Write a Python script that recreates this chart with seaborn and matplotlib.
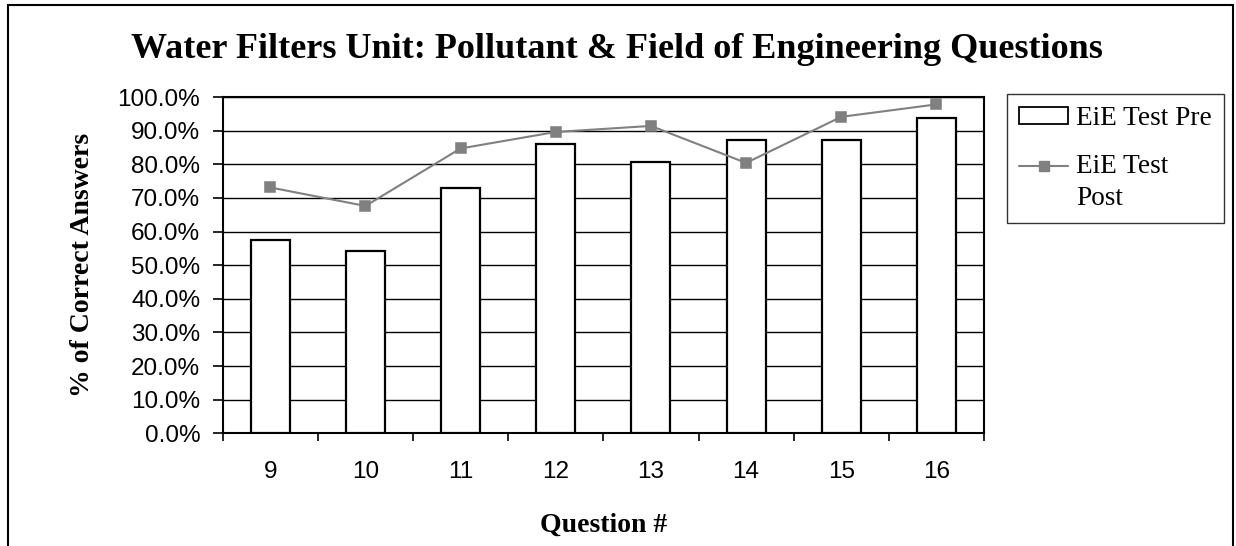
import matplotlib
matplotlib.use("Agg")
import matplotlib.pyplot as plt
import seaborn as sns
import pandas as pd
from matplotlib.ticker import PercentFormatter, MultipleLocator, FixedLocator
from matplotlib.patches import Patch
from matplotlib.lines import Line2D
from matplotlib.legend_handler import HandlerLine2D

questions = ["9", "10", "11", "12", "13", "14", "15", "16"]
pre_scores = [57.5, 54.2, 72.9, 86.0, 80.6, 87.2, 87.2, 93.7]
post_scores = [73.1, 67.6, 84.7, 89.6, 91.4, 80.4, 94.1, 97.8]
series_names = ["EiE Test Pre", "EiE Test\nPost"]

df = pd.DataFrame({"Question": questions, "Pre": pre_scores, "Post": post_scores})

sns.set_theme(style="white")
plt.rcParams["font.family"] = ["Liberation Serif", "DejaVu Serif"]

W, H = 1236, 546
fig = plt.figure(figsize=(W / 100, H / 100), dpi=100)
ax = fig.add_axes([222.7 / W, 1 - 433.3 / H, (984 - 222.7) / W, (433.3 - 97) / H])

sns.barplot(data=df, x="Question", y="Pre", color="white", edgecolor="black",
            linewidth=1.6, width=0.41, ax=ax, zorder=3, saturation=1)
sns.pointplot(data=df, x="Question", y="Post", color="#808080", markers="s",
              markersize=7.5, linewidth=1.5, errorbar=None, ax=ax)
for c in ax.collections:
    c.set_zorder(5)
for l in ax.lines:
    l.set_zorder(4)

ax.set_ylim(0, 100)
ax.set_xlim(-0.5, len(questions) - 0.5)
ax.yaxis.set_major_locator(MultipleLocator(10))
ax.yaxis.set_major_formatter(PercentFormatter(decimals=1))
ax.grid(axis="y", color="black", linewidth=1.0, zorder=0)
ax.set_axisbelow(True)
for s in ax.spines.values():
    s.set_color("black")
    s.set_linewidth(1.5)

ax.tick_params(axis="y", which="major", direction="out", length=7.2, width=1.2,
               color="black", labelsize=17.5, pad=9, left=True)
ax.tick_params(axis="x", which="major", length=0, labelsize=17.5, pad=20)
ax.xaxis.set_minor_locator(FixedLocator([i - 0.5 for i in range(len(questions) + 1)]))
ax.tick_params(axis="x", which="minor", direction="out", length=6, width=1.2,
               color="black", bottom=True)
for lab in ax.get_xticklabels() + ax.get_yticklabels():
    lab.set_fontfamily(["Liberation Sans", "DejaVu Sans"])
    lab.set_color("black")

ax.set_xlabel("Question #", fontsize=20, fontweight="bold", color="black", labelpad=21)
ax.set_ylabel("% of Correct Answers", fontsize=20, fontweight="bold", color="black", labelpad=16)
fig.text(617 / W, 1 - 50 / H, "Water Filters Unit: Pollutant & Field of Engineering Questions",
         ha="center", va="center", fontsize=26, fontweight="bold", color="black")


class FirstLineHandler(HandlerLine2D):
    def create_artists(self, legend, orig_handle, xdescent, ydescent, width,
                       height, fontsize, trans):
        return super().create_artists(legend, orig_handle, xdescent,
                                      ydescent - 24, width, height, fontsize, trans)


handles = [Patch(facecolor="white", edgecolor="black", linewidth=1.3),
           Line2D([0], [0], color="#808080", marker="s", markersize=7.5, linewidth=1.5)]
leg = fig.legend(handles, series_names, loc="upper left",
                 bbox_to_anchor=(1007 / W, 1 - 94 / H), borderaxespad=0,
                 frameon=True, fancybox=False, edgecolor="black", fontsize=19.6,
                 handlelength=1.8, handleheight=0.6, labelspacing=0.85,
                 borderpad=0.45, handletextpad=0.3,
                 handler_map={Line2D: FirstLineHandler()})
leg.get_frame().set_linewidth(1.0)
for t in leg.get_texts():
    t.set_color("black")
    t.set_linespacing(1.35)

# figure border (open at bottom)
border_kw = dict(color="black", linewidth=1.5, transform=fig.transFigure)
fig.add_artist(Line2D([8 / W, 8 / W], [0, 1 - 5 / H], **border_kw))
fig.add_artist(Line2D([8 / W, 1233 / W], [1 - 5 / H, 1 - 5 / H], **border_kw))
fig.add_artist(Line2D([1233 / W, 1233 / W], [0, 1 - 5 / H], **border_kw))

fig.savefig("out.png", dpi=100)
